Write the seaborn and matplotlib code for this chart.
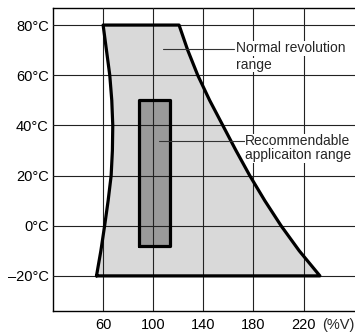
import numpy as np
import pandas as pd
import seaborn as sns
import matplotlib
matplotlib.use('Agg')
import matplotlib.pyplot as plt

# boundary of the normal revolution range (voltage %V vs temperature degC)
left_temp = [-20, -10, 0, 10, 20, 30, 40, 50, 60, 80]
left_volt = [54.7, 58.2, 61.2, 64, 66.4, 67.4, 67.7, 66.9, 65.3, 60]
right_temp = [80, 70, 60, 50, 40, 30, 20, 10, 0, -10, -20]
right_volt = [120.6, 127.5, 135.5, 145, 155.5, 166, 177, 189, 202, 216.5, 233]

# recommendable application range (rectangle)
rec_volt = [89, 113.5]
rec_temp = [-8, 50]

x_ticks = [60, 100, 140, 180, 220]
y_ticks = [-20, 0, 20, 40, 60, 80]
y_labels = ['\u201220\u00b0C', '0\u00b0C', '20\u00b0C', '40\u00b0C', '60\u00b0C', '80\u00b0C']

sns.set_style('white')
plt.rcParams['font.family'] = ['Liberation Sans', 'DejaVu Sans']
fs = 10.5
fs_note = 10

fig = plt.figure(figsize=(3.55, 3.33), dpi=100)
ax = fig.add_axes([53/355, 22/333, 1 - 53/355, 303/333])

outline = pd.DataFrame({'volt': left_volt + right_volt + [left_volt[0]],
                        'temp': left_temp + right_temp + [left_temp[0]]})
ax.fill(outline['volt'], outline['temp'], color='#d9d9d9', zorder=1, lw=0)

rect = pd.DataFrame({'volt': [rec_volt[0], rec_volt[1], rec_volt[1], rec_volt[0], rec_volt[0]],
                     'temp': [rec_temp[0], rec_temp[0], rec_temp[1], rec_temp[1], rec_temp[0]]})
ax.fill(rect['volt'], rect['temp'], color='#9a9a9a', zorder=1.5, lw=0)

ax.grid(True, color='#222222', lw=0.8, zorder=2)
ax.set_axisbelow(False)
sns.lineplot(data=outline, x='volt', y='temp', sort=False, estimator=None,
             color='black', lw=2.3, ax=ax, zorder=4)
sns.lineplot(data=rect, x='volt', y='temp', sort=False, estimator=None,
             color='black', lw=2.3, ax=ax, zorder=4)

# leader lines and labels
box = dict(facecolor='white', edgecolor='none', pad=0.3)
ax.plot([108, 164.5], [70.3, 70.3], color='#333333', lw=0.8, zorder=5)
ax.text(166.3, 70.7, 'Normal revolution', fontsize=fs_note, va='center', ha='left', zorder=6, bbox=box)
ax.text(166.3, 64.1, 'range', fontsize=fs_note, va='center', ha='left', zorder=6, bbox=box)
ax.plot([104.8, 173], [33.8, 33.8], color='#333333', lw=0.8, zorder=5)
ax.text(173.3, 33.8, 'Recommendable', fontsize=fs_note, va='center', ha='left', zorder=6, bbox=box)
ax.text(173.3, 28.0, 'applicaiton range', fontsize=fs_note, va='center', ha='left', zorder=6, bbox=box)

ax.set_xlim(20, 261)
ax.set_ylim(-34, 86.8)
ax.set_xticks(x_ticks)
ax.set_yticks(y_ticks)
ax.set_yticklabels(y_labels)
ax.tick_params(axis='x', length=0, labelsize=fs, pad=5, colors='black')
ax.tick_params(axis='y', length=0, labelsize=fs, pad=3, colors='black')
ax.set_xlabel('')
ax.set_ylabel('')
for s in ['left', 'bottom', 'top']:
    ax.spines[s].set_color('black')
    ax.spines[s].set_linewidth(1.0)
ax.spines['right'].set_visible(False)
ax.annotate('(%V)', xy=(235, 0), xycoords=('data', 'axes fraction'),
            xytext=(0, -5), textcoords='offset points',
            fontsize=fs, va='top', ha='left')

fig.savefig('out.png', dpi=100)
